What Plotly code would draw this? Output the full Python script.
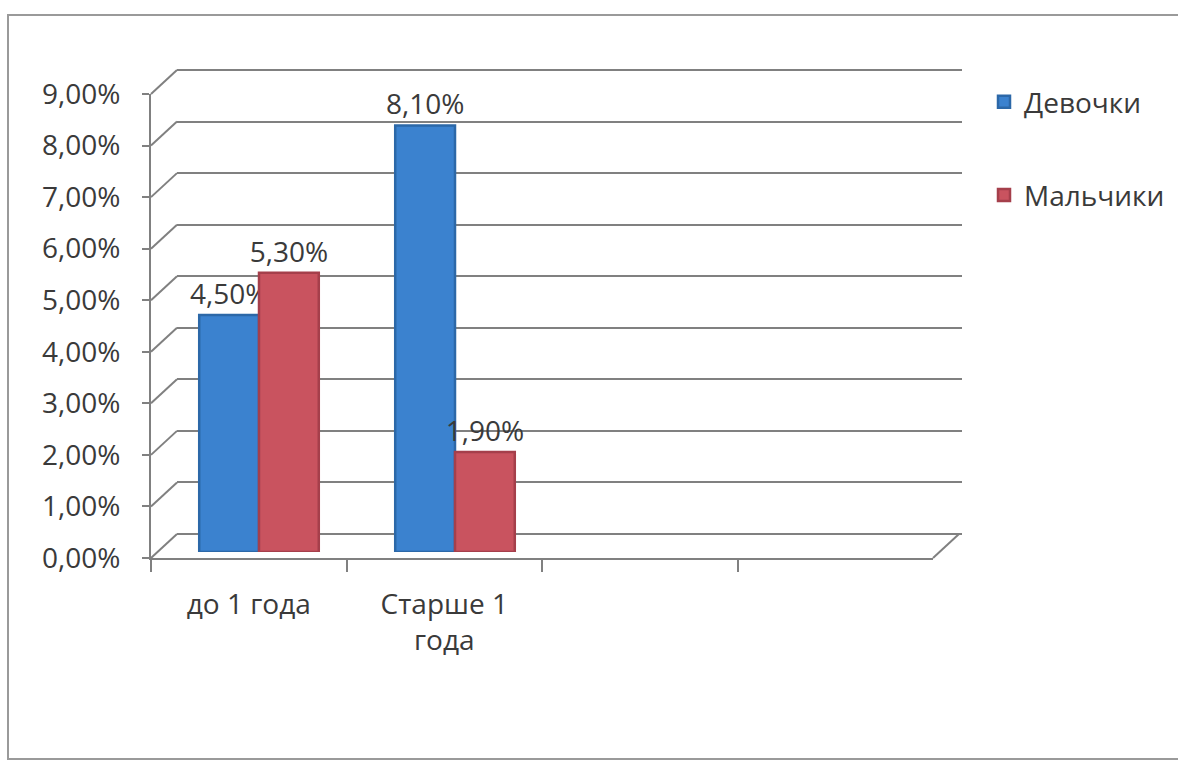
import plotly.graph_objects as go

# ---- data ----
categories = ["до 1 года", "Старше 1<br>года", "c3", "c4"]
tick_labels = ["до 1 года", "Старше 1<br>года", "", ""]
series_names = ["Девочки", "Мальчики"]
girls = [4.5, 8.1]
boys = [5.3, 1.9]
y_ticks = [0, 1, 2, 3, 4, 5, 6, 7, 8, 9]

# ---- geometry (pixels) ----
W, H = 1178, 761
FONT = "Open Sans"
TXT = "#3a3a3a"
GRID = "#808080"
FS = 28


def fx(p):
    return p / W


def fy(p):
    return 1 - p / H


# front (labels), back (grid wall), mid (bars)
FX0, FX1, FY0, FY9 = 151, 933, 558, 94
DX, DY = 26, 24
BX0, BX1, BY0, BY9 = FX0 + DX, 962, FY0 - DY, FY9 - DY
MX0, MX1, MY0, MY9 = 161, 945, 552, 78
PAD = 0.06  # small range extension so edge gridlines are drawn
bpu = (BY0 - BY9) / 9.0

fig = go.Figure()

# back wall grid axes (x, y) - dummy trace
fig.add_trace(go.Scatter(x=categories, y=[None] * 4, xaxis="x", yaxis="y",
                         showlegend=False, hoverinfo="skip"))

# bars on mid axes
fig.add_trace(go.Bar(x=categories[:2], y=girls, name=series_names[0],
                     xaxis="x2", yaxis="y2", legendgroup="g1",
                     marker=dict(color="#3b82cf", line=dict(color="#2c68a8", width=2.5)),
                     texttemplate="%{y:.2f}%", textposition="outside",
                     constraintext="none",
                     textfont=dict(family=FONT, size=FS, color=TXT),
                     cliponaxis=False))
fig.add_trace(go.Bar(x=categories[:2], y=boys, name=series_names[1],
                     xaxis="x2", yaxis="y2", legendgroup="g2",
                     marker=dict(color="#c9535f", line=dict(color="#a53f4b", width=2.5)),
                     texttemplate="%{y:.2f}%", textposition="outside",
                     constraintext="none",
                     textfont=dict(family=FONT, size=FS, color=TXT),
                     cliponaxis=False))

# front axes - dummy trace
fig.add_trace(go.Scatter(x=categories, y=[None] * 4, xaxis="x3", yaxis="y3",
                         showlegend=False, hoverinfo="skip"))

# diagonal connectors between front axis ticks and back wall gridlines
shapes = []
for v in y_ticks:
    yf = FY0 + (FY9 - FY0) * v / 9
    yb = BY0 + (BY9 - BY0) * v / 9
    shapes.append(dict(type="line", xref="paper", yref="paper",
                       x0=fx(FX0), y0=fy(yf), x1=fx(BX0), y1=fy(yb),
                       line=dict(color=GRID, width=2)))
# floor right edge
shapes.append(dict(type="line", xref="paper", yref="paper",
                   x0=fx(FX1), y0=fy(FY0), x1=fx(FX1 + DX), y1=fy(BY0),
                   line=dict(color=GRID, width=2)))
# outer border
shapes.append(dict(type="rect", xref="paper", yref="paper",
                   x0=fx(8), y0=fy(759), x1=1.05, y1=fy(15),
                   line=dict(color="#9a9a9a", width=2)))

cat_axis = dict(type="category", categoryorder="array", categoryarray=categories,
                range=[-0.5, 3.5], fixedrange=True, automargin=False)

fig.update_layout(
    template="none",
    width=W, height=H, autosize=False,
    margin=dict(l=0, r=0, t=0, b=0, pad=0, autoexpand=False),
    paper_bgcolor="white", plot_bgcolor="rgba(0,0,0,0)",
    separators=", ",
    font=dict(family=FONT, size=FS, color=TXT),
    barmode="group", bargap=0.39, bargroupgap=0,
    showlegend=True,
    legend=dict(x=fx(984), y=fy(77), xanchor="left", yanchor="top",
                traceorder="grouped", tracegroupgap=54,
                font=dict(family=FONT, size=FS, color=TXT),
                bgcolor="rgba(0,0,0,0)", borderwidth=0),
    xaxis=dict(**cat_axis, domain=[fx(BX0), fx(BX1)], anchor="y",
               showticklabels=False, showgrid=False, zeroline=False, showline=False,
               ticks=""),
    yaxis=dict(domain=[fy(BY0 + PAD * bpu), fy(BY9 - PAD * bpu)], anchor="x",
               range=[-PAD, 9 + PAD], tickmode="array", tickvals=y_ticks,
               showticklabels=False, showgrid=True, gridcolor=GRID, gridwidth=2,
               zeroline=False, showline=False, ticks="", automargin=False),
    xaxis2=dict(**cat_axis, domain=[fx(MX0), fx(MX1)], anchor="y2",
                showticklabels=False, showgrid=False, zeroline=False, showline=False,
                ticks=""),
    yaxis2=dict(domain=[fy(MY0), fy(MY9)], anchor="x2", range=[0, 9],
                showticklabels=False, showgrid=False, zeroline=False, showline=False,
                ticks="", automargin=False),
    xaxis3=dict(**cat_axis, domain=[fx(FX0), fx(FX1)], anchor="y3",
                tickmode="array", tickvals=categories, ticktext=tick_labels,
                tickson="boundaries", ticks="outside", ticklen=12,
                tickcolor=GRID, tickwidth=2, ticklabelstandoff=20,
                showline=True, linecolor=GRID, linewidth=2,
                showgrid=False, zeroline=False,
                tickfont=dict(family=FONT, size=FS, color=TXT)),
    yaxis3=dict(domain=[fy(FY0), fy(FY9)], anchor="x3", range=[0, 9],
                tickmode="array", tickvals=y_ticks,
                ticktext=[f"{v:.2f}%".replace(".", ",") for v in y_ticks],
                ticks="outside", ticklen=7, tickcolor=GRID, tickwidth=2,
                ticklabelstandoff=16,
                showline=True, linecolor=GRID, linewidth=2,
                showgrid=False, zeroline=False, automargin=False,
                tickfont=dict(family=FONT, size=FS, color=TXT)),
    shapes=shapes,
)

fig.write_html("out.html")
